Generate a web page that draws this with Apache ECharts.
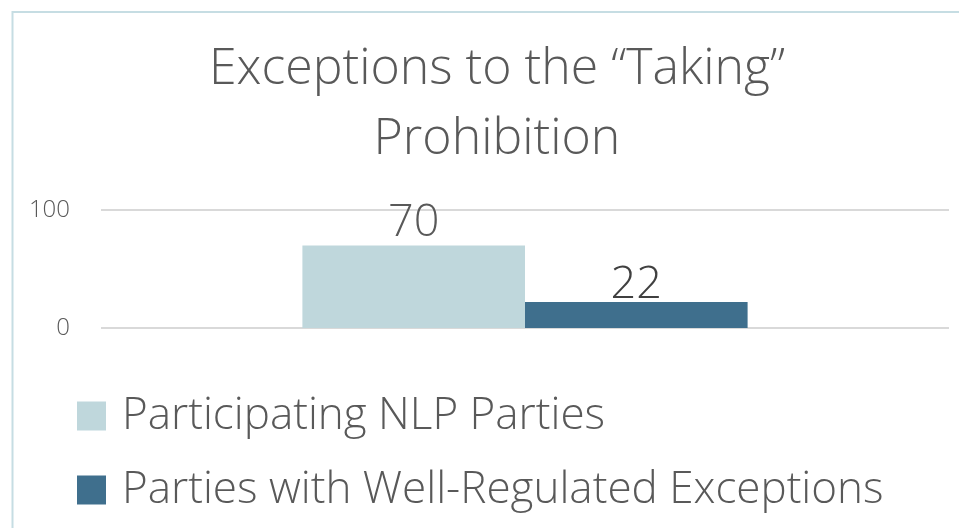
<!DOCTYPE html>
<html><head><meta charset="utf-8">
<script src="https://cdn.jsdelivr.net/npm/echarts@6/dist/echarts.min.js"></script>
<style>html,body{margin:0;padding:0;background:#fff}#c{width:959px;height:528px}</style>
</head><body><div id="c"></div>
<script>
const titleText = 'Exceptions to the \u201CTaking\u201D\nProhibition';
const categories = ['Exceptions'];
const seriesNames = ['Participating NLP Parties', 'Parties with Well-Regulated Exceptions'];
const participating = [70];
const wellRegulated = [22];
const yTicks = [0, 100];

const FONT = '"Open Sans", "Noto Sans", sans-serif';
const chart = echarts.init(document.getElementById('c'), null, {renderer: 'canvas'});
chart.setOption({
  animation: false,
  textStyle: {fontFamily: FONT},
  graphic: [{
    type: 'rect', shape: {x: 12.5, y: 12, width: 1000, height: 600},
    style: {fill: 'none', stroke: '#c6dde3', lineWidth: 2}, silent: true
  }],
  title: {
    text: titleText, left: 492, top: 30, textAlign: 'center',
    textStyle: {fontFamily: FONT, fontWeight: 300, fontSize: 50, color: '#595959', lineHeight: 70}
  },
  legend: {
    orient: 'vertical', left: 72, top: 389, itemGap: 30,
    itemWidth: 29, itemHeight: 29, icon: 'rect',
    textStyle: {fontFamily: FONT, fontWeight: 300, fontSize: 44, lineHeight: 44, color: '#595959', padding: [0, 0, 0, 11]},
    data: seriesNames
  },
  grid: {left: 101, right: 10, top: 210, bottom: 200},
  xAxis: {type: 'category', data: categories, axisLine: {show: false}, axisTick: {show: false}, axisLabel: {show: false}},
  yAxis: {
    type: 'value', min: yTicks[0], max: yTicks[yTicks.length - 1], interval: 100,
    axisLabel: {fontFamily: FONT, fontWeight: 300, fontSize: 24, color: '#595959', margin: 31},
    splitLine: {lineStyle: {color: '#d9d9d9', width: 2}}
  },
  series: [
    {name: seriesNames[0], type: 'bar', data: participating, barGap: '0%', barCategoryGap: '47.5%',
     itemStyle: {color: '#bfd7dc'},
     label: {show: true, position: 'top', distance: 0, fontFamily: FONT, fontWeight: 300, fontSize: 45, color: '#595959'}},
    {name: seriesNames[1], type: 'bar', data: wellRegulated,
     itemStyle: {color: '#3f6f8d'},
     label: {show: true, position: 'top', distance: -6, fontFamily: FONT, fontWeight: 300, fontSize: 45, color: '#404040'}}
  ]
});
</script></body></html>
